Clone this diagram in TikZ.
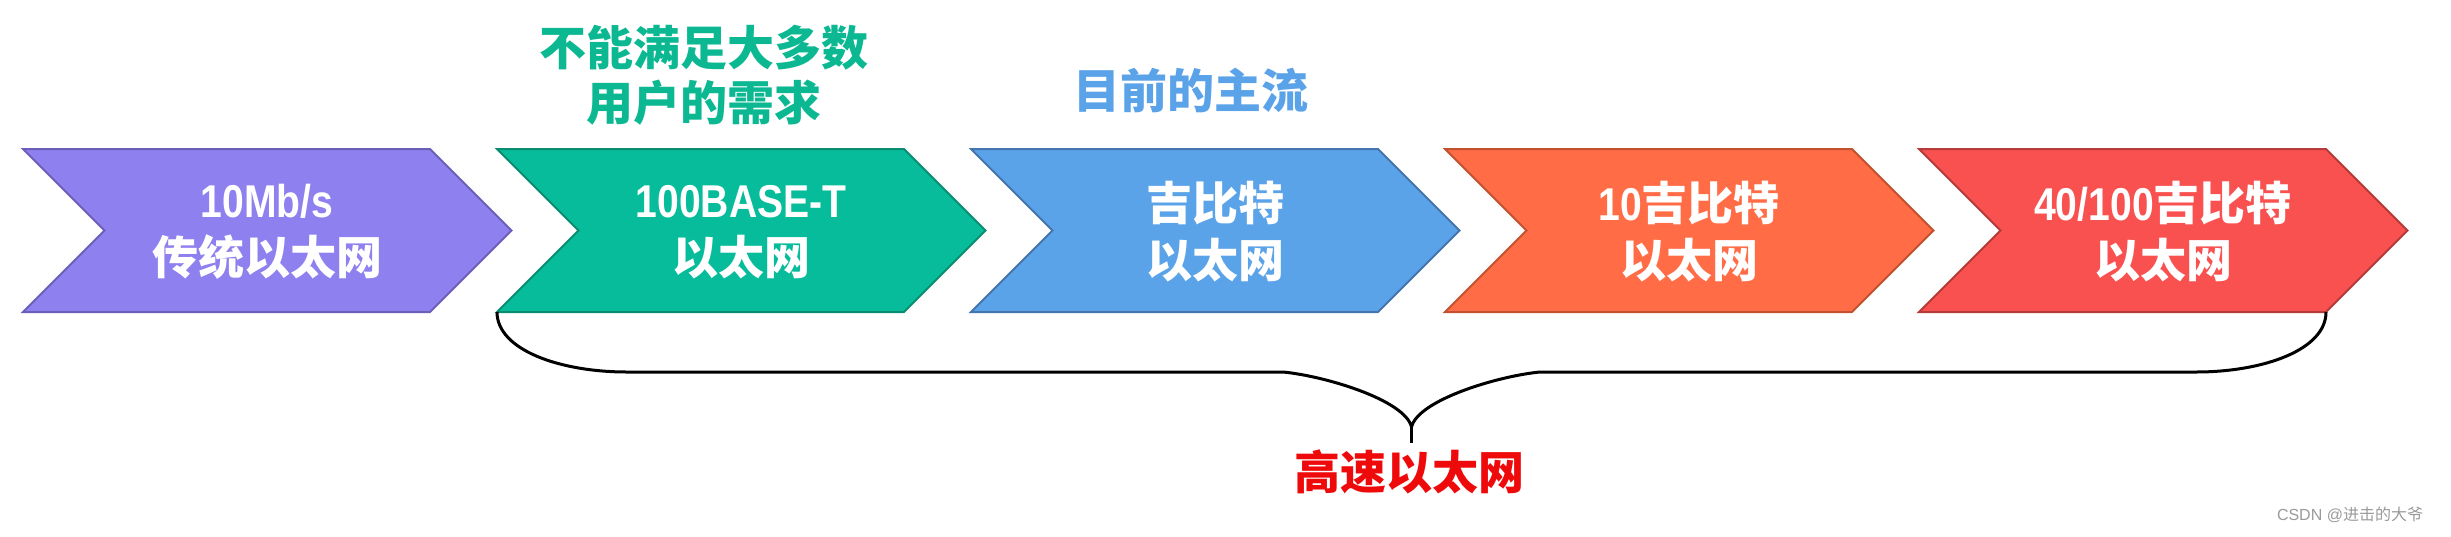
\documentclass[tikz,border=0pt]{standalone}
\usepackage{fontspec}
\setmainfont{Liberation Sans}
\newfontfamily\zhfont{Noto Sans CJK SC}
\newfontfamily\latfont{Liberation Sans}[FakeStretch=0.85]
\newcommand\latt[1]{{\latfont\bfseries #1}}
\newcommand\zh[1]{{\zhfont\bfseries #1}}
\newcommand\chevfont{\fontsize{46}{57}\selectfont}
\definecolor{c1f}{HTML}{8E80EF}\definecolor{c1d}{HTML}{6B5FB8}
\definecolor{c2f}{HTML}{06BC9A}\definecolor{c2d}{HTML}{0A8C72}
\definecolor{c3f}{HTML}{5BA3E9}\definecolor{c3d}{HTML}{4675AE}
\definecolor{c4f}{HTML}{FF6C45}\definecolor{c4d}{HTML}{C2522F}
\definecolor{c5f}{HTML}{F95050}\definecolor{c5d}{HTML}{B63B3B}
\definecolor{gtxt}{HTML}{0BB892}\definecolor{btxt}{HTML}{5BA3E9}
\definecolor{rtxt}{HTML}{EE0A0A}\definecolor{wm}{HTML}{9A9A9A}
\usetikzlibrary{calc}
\tikzset{
  chev/.style={line width=2pt, line join=miter},
  lab/.style={text=white, align=center, font=\chevfont, inner sep=0pt},
  note/.style={align=center, font=\fontsize{47}{55}\selectfont, inner sep=0pt},
  brace/.style={line width=3pt, black},
}
\newcommand\chevron[5]{%
  \path[chev, fill=#3, draw=#4] (#2,149) -- ++(407,0) -- ++(81.5,81.5) -- ++(-81.5,81.5) -- ++(-407,0) -- ++(81.5,-81.5) -- cycle;
  \node[lab] (#1) at (#2+244,232) {#5};
  \coordinate (#1bl) at (#2,312);
  \coordinate (#1br) at (#2+407,312);
}
\begin{document}
\begin{tikzpicture}[x=1pt,y=-1pt]
\useasboundingbox (0,0) rectangle (2451,536);
\fill[white] (0,0) rectangle (2451,536);
\chevron{c1}{23}{c1f}{c1d}{\latt{10Mb/s}\\\zh{传统以太网}}
\chevron{c2}{497}{c2f}{c2d}{\latt{100BASE-T}\\\zh{以太网}}
\chevron{c3}{971}{c3f}{c3d}{\zh{吉比特}\\\zh{以太网}}
\chevron{c4}{1445}{c4f}{c4d}{\latt{10}\zh{吉比特}\\\zh{以太网}}
\chevron{c5}{1919}{c5f}{c5d}{\latt{40/100}\zh{吉比特}\\\zh{以太网}}
\node[note, text=gtxt] (n2) at (704,75) {\zh{不能满足大多数}\\\zh{用户的需求}};
\node[note, text=btxt] (n3) at (1191,90) {\zh{目前的主流}};
\coordinate (tip) at (1411.5,427);
\coordinate (stub) at (1411.5,443);
\draw[brace] (c2bl) .. controls +(0,38) and +(-67,0) .. (627,372) -- (1283,372)
  .. controls +(42,4) and +(-6.5,-27) .. (tip)
  .. controls +(6.5,-27) and +(-42,4) .. (1540,372) -- (2196,372)
  .. controls +(67,0) and +(0,38) .. (c5br);
\draw[brace, line width=2.5pt] (tip) -- (stub);
\node[note, text=rtxt, font=\fontsize{46}{55}\selectfont] (hs) at (1409,472) {\zh{高速以太网}};
\node[text=wm, inner sep=0pt, font=\fontsize{16}{18}\selectfont] (wmk) at (2350,515) {CSDN @{\zhfont 进击的大爷}};
\end{tikzpicture}
\end{document}
